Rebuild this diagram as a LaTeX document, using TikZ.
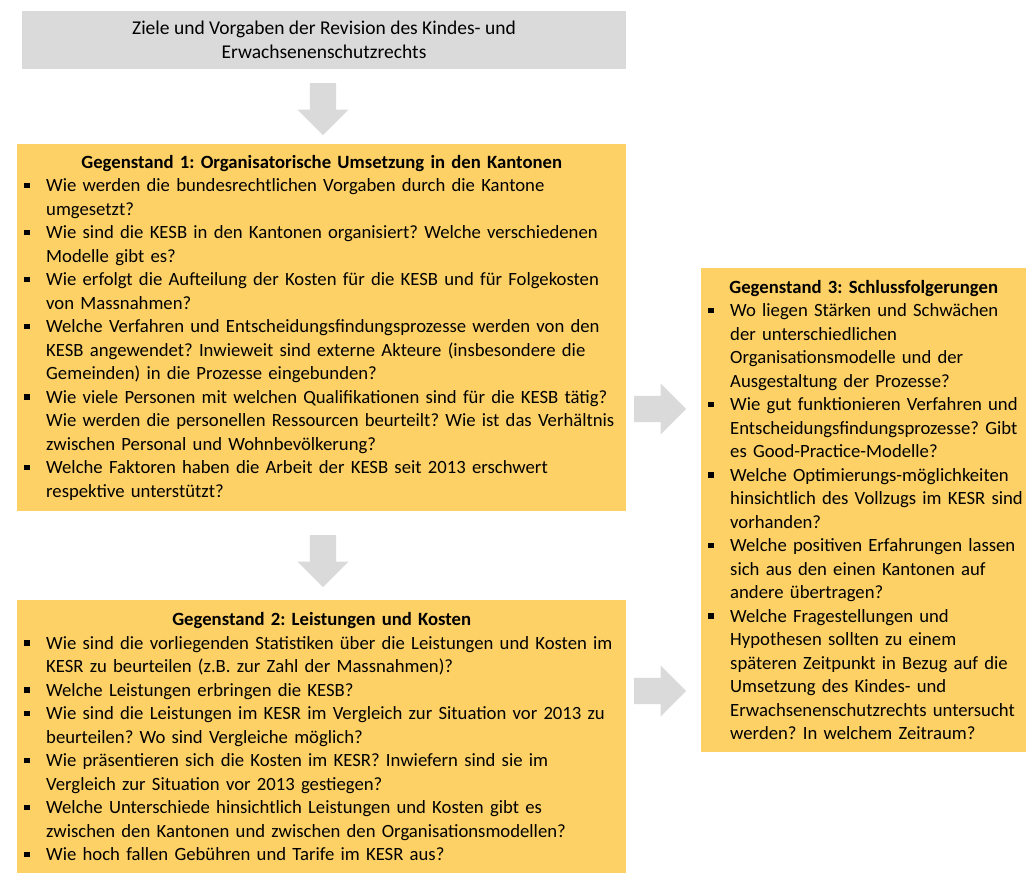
\documentclass[tikz,border=0pt]{standalone}
\usepackage{fontspec}
\setmainfont{Carlito}
\usepackage{enumitem}
\usetikzlibrary{shapes.arrows}

\definecolor{boxgelb}{HTML}{FED166}
\definecolor{boxgrau}{HTML}{DADADA}

\newcommand{\punkt}{\rule[3.5pt]{5.5pt}{5.5pt}}
\newenvironment{fragen}{\begin{itemize}[label=\punkt, leftmargin=28pt, labelwidth=6pt,
  labelsep=16pt, align=left, itemsep=0pt, topsep=0pt, parsep=0pt, partopsep=0pt]}{\end{itemize}}

\tikzset{
  gegenstand/.style={fill=boxgelb, anchor=north west, inner xsep=1pt, inner ysep=11pt,
    align=left, font=\fontsize{18.7}{23.5}\selectfont\frenchspacing},
  pfeil/.style={single arrow, fill=boxgrau, inner sep=13pt, minimum height=52pt,
    single arrow head extend=12.5pt, anchor=tail},
}

\begin{document}
\begin{tikzpicture}[x=1pt,y=-1pt]
  \useasboundingbox (0,0) rectangle (1028,886);

  % Ziele
  \node[fill=boxgrau, minimum width=604pt, minimum height=58pt, align=center,
    font=\fontsize{19.5}{24}\selectfont] (ziel) at (324,40)
    {Ziele und Vorgaben der Revision des Kindes- und\\Erwachsenenschutzrechts};

  % Gegenstand 1
  \node[gegenstand, text width=607pt, minimum height=366pt] (g1) at (17,144) {%
    {\centering\bfseries Gegenstand 1: Organisatorische Umsetzung in den Kantonen\par}
    \begin{fragen}
      \item Wie werden die bundesrechtlichen Vorgaben durch die Kantone\newline umgesetzt?
      \item Wie sind die KESB in den Kantonen organisiert? Welche verschiedenen\newline Modelle gibt es?
      \item Wie erfolgt die Aufteilung der Kosten für die KESB und für Folgekosten\newline von Massnahmen?
      \item Welche Verfahren und Entscheidungsfindungsprozesse werden von den\newline KESB angewendet? Inwieweit sind externe Akteure (insbesondere die\newline Gemeinden) in die Prozesse eingebunden?
      \item Wie viele Personen mit welchen Qualifikationen sind für die KESB tätig?\newline Wie werden die personellen Ressourcen beurteilt? Wie ist das Verhältnis\newline zwischen Personal und Wohnbevölkerung?
      \item Welche Faktoren haben die Arbeit der KESB seit 2013 erschwert\newline respektive unterstützt?
    \end{fragen}};

  % Gegenstand 2
  \node[gegenstand, text width=607pt, minimum height=273pt] (g2) at (17,600) {%
    {\centering\bfseries Gegenstand 2: Leistungen und Kosten\par}
    \begin{fragen}
      \item Wie sind die vorliegenden Statistiken über die Leistungen und Kosten im\newline KESR zu beurteilen (z.B. zur Zahl der Massnahmen)?
      \item Welche Leistungen erbringen die KESB?
      \item Wie sind die Leistungen im KESR im Vergleich zur Situation vor 2013 zu\newline beurteilen? Wo sind Vergleiche möglich?
      \item Wie präsentieren sich die Kosten im KESR? Inwiefern sind sie im\newline Vergleich zur Situation vor 2013 gestiegen?
      \item Welche Unterschiede hinsichtlich Leistungen und Kosten gibt es\newline zwischen den Kantonen und zwischen den Organisationsmodellen?
      \item Wie hoch fallen Gebühren und Tarife im KESR aus?
    \end{fragen}};

  % Gegenstand 3
  \node[gegenstand, text width=323pt, minimum height=484pt] (g3) at (701,268) {%
    {\centering\bfseries Gegenstand 3: Schlussfolgerungen\par}
    \begin{fragen}
      \item Wo liegen Stärken und Schwächen\newline der unterschiedlichen\newline Organisationsmodelle und der\newline Ausgestaltung der Prozesse?
      \item Wie gut funktionieren Verfahren und\newline Entscheidungsfindungsprozesse? Gibt\newline es Good-Practice-Modelle?
      \item Welche Optimierungs-möglichkeiten\newline hinsichtlich des Vollzugs im KESR sind\newline vorhanden?
      \item Welche positiven Erfahrungen lassen\newline sich aus den einen Kantonen auf\newline andere übertragen?
      \item Welche Fragestellungen und\newline Hypothesen sollten zu einem\newline späteren Zeitpunkt in Bezug auf die\newline Umsetzung des Kindes- und\newline Erwachsenenschutzrechts untersucht\newline werden? In welchem Zeitraum?
    \end{fragen}};

  % Pfeile
  \node[pfeil, shape border rotate=270] (p1) at (323,83) {};
  \node[pfeil, shape border rotate=270] (p2) at (323,535) {};
  \node[pfeil] (p3) at (634,409) {};
  \node[pfeil] (p4) at (634,691) {};
\end{tikzpicture}
\end{document}
